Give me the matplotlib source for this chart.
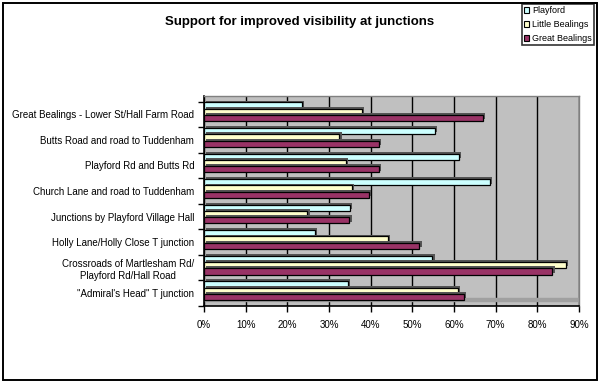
import matplotlib
matplotlib.use("Agg")
import matplotlib.pyplot as plt
import matplotlib.patheffects as pe
from matplotlib.patches import Patch, Rectangle
from matplotlib.ticker import PercentFormatter, FixedLocator
import numpy as np

plt.rcParams['font.family'] = ['Liberation Sans', 'DejaVu Sans']

categories = [
    "Great Bealings - Lower St/Hall Farm Road",
    "Butts Road and road to Tuddenham",
    "Playford Rd and Butts Rd",
    "Church Lane and road to Tuddenham",
    "Junctions by Playford Village Hall",
    "Holly Lane/Holly Close T junction",
    "Crossroads of Martlesham Rd/\nPlayford Rd/Hall Road",
    "\"Admiral's Head\" T junction",
]
series_names = ["Playford", "Little Bealings", "Great Bealings"]
playford = [0.234, 0.555, 0.612, 0.687, 0.351, 0.266, 0.548, 0.346]
little_bealings = [0.379, 0.325, 0.341, 0.354, 0.248, 0.441, 0.868, 0.609]
great_bealings = [0.670, 0.419, 0.419, 0.395, 0.349, 0.517, 0.836, 0.624]
colors = ["#CCFFFF", "#FFFFCC", "#993366"]
xticks = [0, 0.1, 0.2, 0.3, 0.4, 0.5, 0.6, 0.7, 0.8, 0.9]

W, H = 602, 385
fig = plt.figure(figsize=(W / 100, H / 100), dpi=100)

# outer border
fig.patches.append(Rectangle((3 / W, 5 / H), 594 / W, 377 / H, transform=fig.transFigure,
                             fill=False, edgecolor='black', linewidth=1.4))

left, right, top, bottom = 204, 579, 96, 306
ax = fig.add_axes([left / W, 1 - bottom / H, (right - left) / W, (bottom - top) / H])
ax.set_facecolor('#C0C0C0')

y = np.arange(len(categories))
bh = 0.245
series = [playford, little_bealings, great_bealings]
shadow = [pe.SimplePatchShadow(offset=(1.6, 1.3), shadow_rgbFace='#555555', alpha=1.0), pe.Normal()]
for i, (vals, name, c) in enumerate(zip(series, series_names, colors)):
    ax.barh(y + (i - 1) * bh, vals, height=bh, color=c, edgecolor='black', linewidth=0.9,
            label=name, zorder=3, path_effects=shadow)

ax.set_xlim(0, 0.9)
ax.set_ylim(7.42, -0.62)
ax.xaxis.set_major_locator(FixedLocator(xticks))
ax.xaxis.set_major_formatter(PercentFormatter(1.0, decimals=0))
ax.set_yticks(y + 0.1)
ax.set_yticklabels(categories, fontsize=7, linespacing=1.3)
for t in ax.get_yticklabels():
    t.set_multialignment('center')
ax.set_yticks(np.arange(len(categories) + 1) - 0.4, minor=True)
ax.tick_params(axis='y', which='major', length=0, pad=7)
ax.tick_params(axis='y', which='minor', length=4, width=1, direction='out')
ax.tick_params(axis='x', length=4, width=1, direction='out', labelsize=7, pad=6)
ax.grid(axis='x', color='black', linewidth=1, zorder=1)
ax.set_axisbelow(True)

# floor strip
ax.axhspan(7.3, 7.42, color='#A0A0A0', zorder=2)

for s in ['left', 'bottom']:
    ax.spines[s].set_color('black')
    ax.spines[s].set_linewidth(1.2)
for s in ['top', 'right']:
    ax.spines[s].set_color('#808080')
    ax.spines[s].set_linewidth(1.0)

fig.text(300 / W, 1 - 22 / H, "Support for improved visibility at junctions", ha='center', va='center',
         fontsize=9.5, fontweight='bold')

handles = [Patch(facecolor=c, edgecolor='black', linewidth=0.8) for c in colors]
leg = fig.legend(handles, series_names, loc='upper right', bbox_to_anchor=(594 / W, 1 - 4 / H),
                 fontsize=6.5, frameon=True, fancybox=False, edgecolor='black',
                 handlelength=0.6, handleheight=0.6, handletextpad=0.3, labelspacing=0.55,
                 borderpad=0.25, borderaxespad=0)
leg.get_frame().set_linewidth(1.2)

fig.savefig("out.png", dpi=100)
